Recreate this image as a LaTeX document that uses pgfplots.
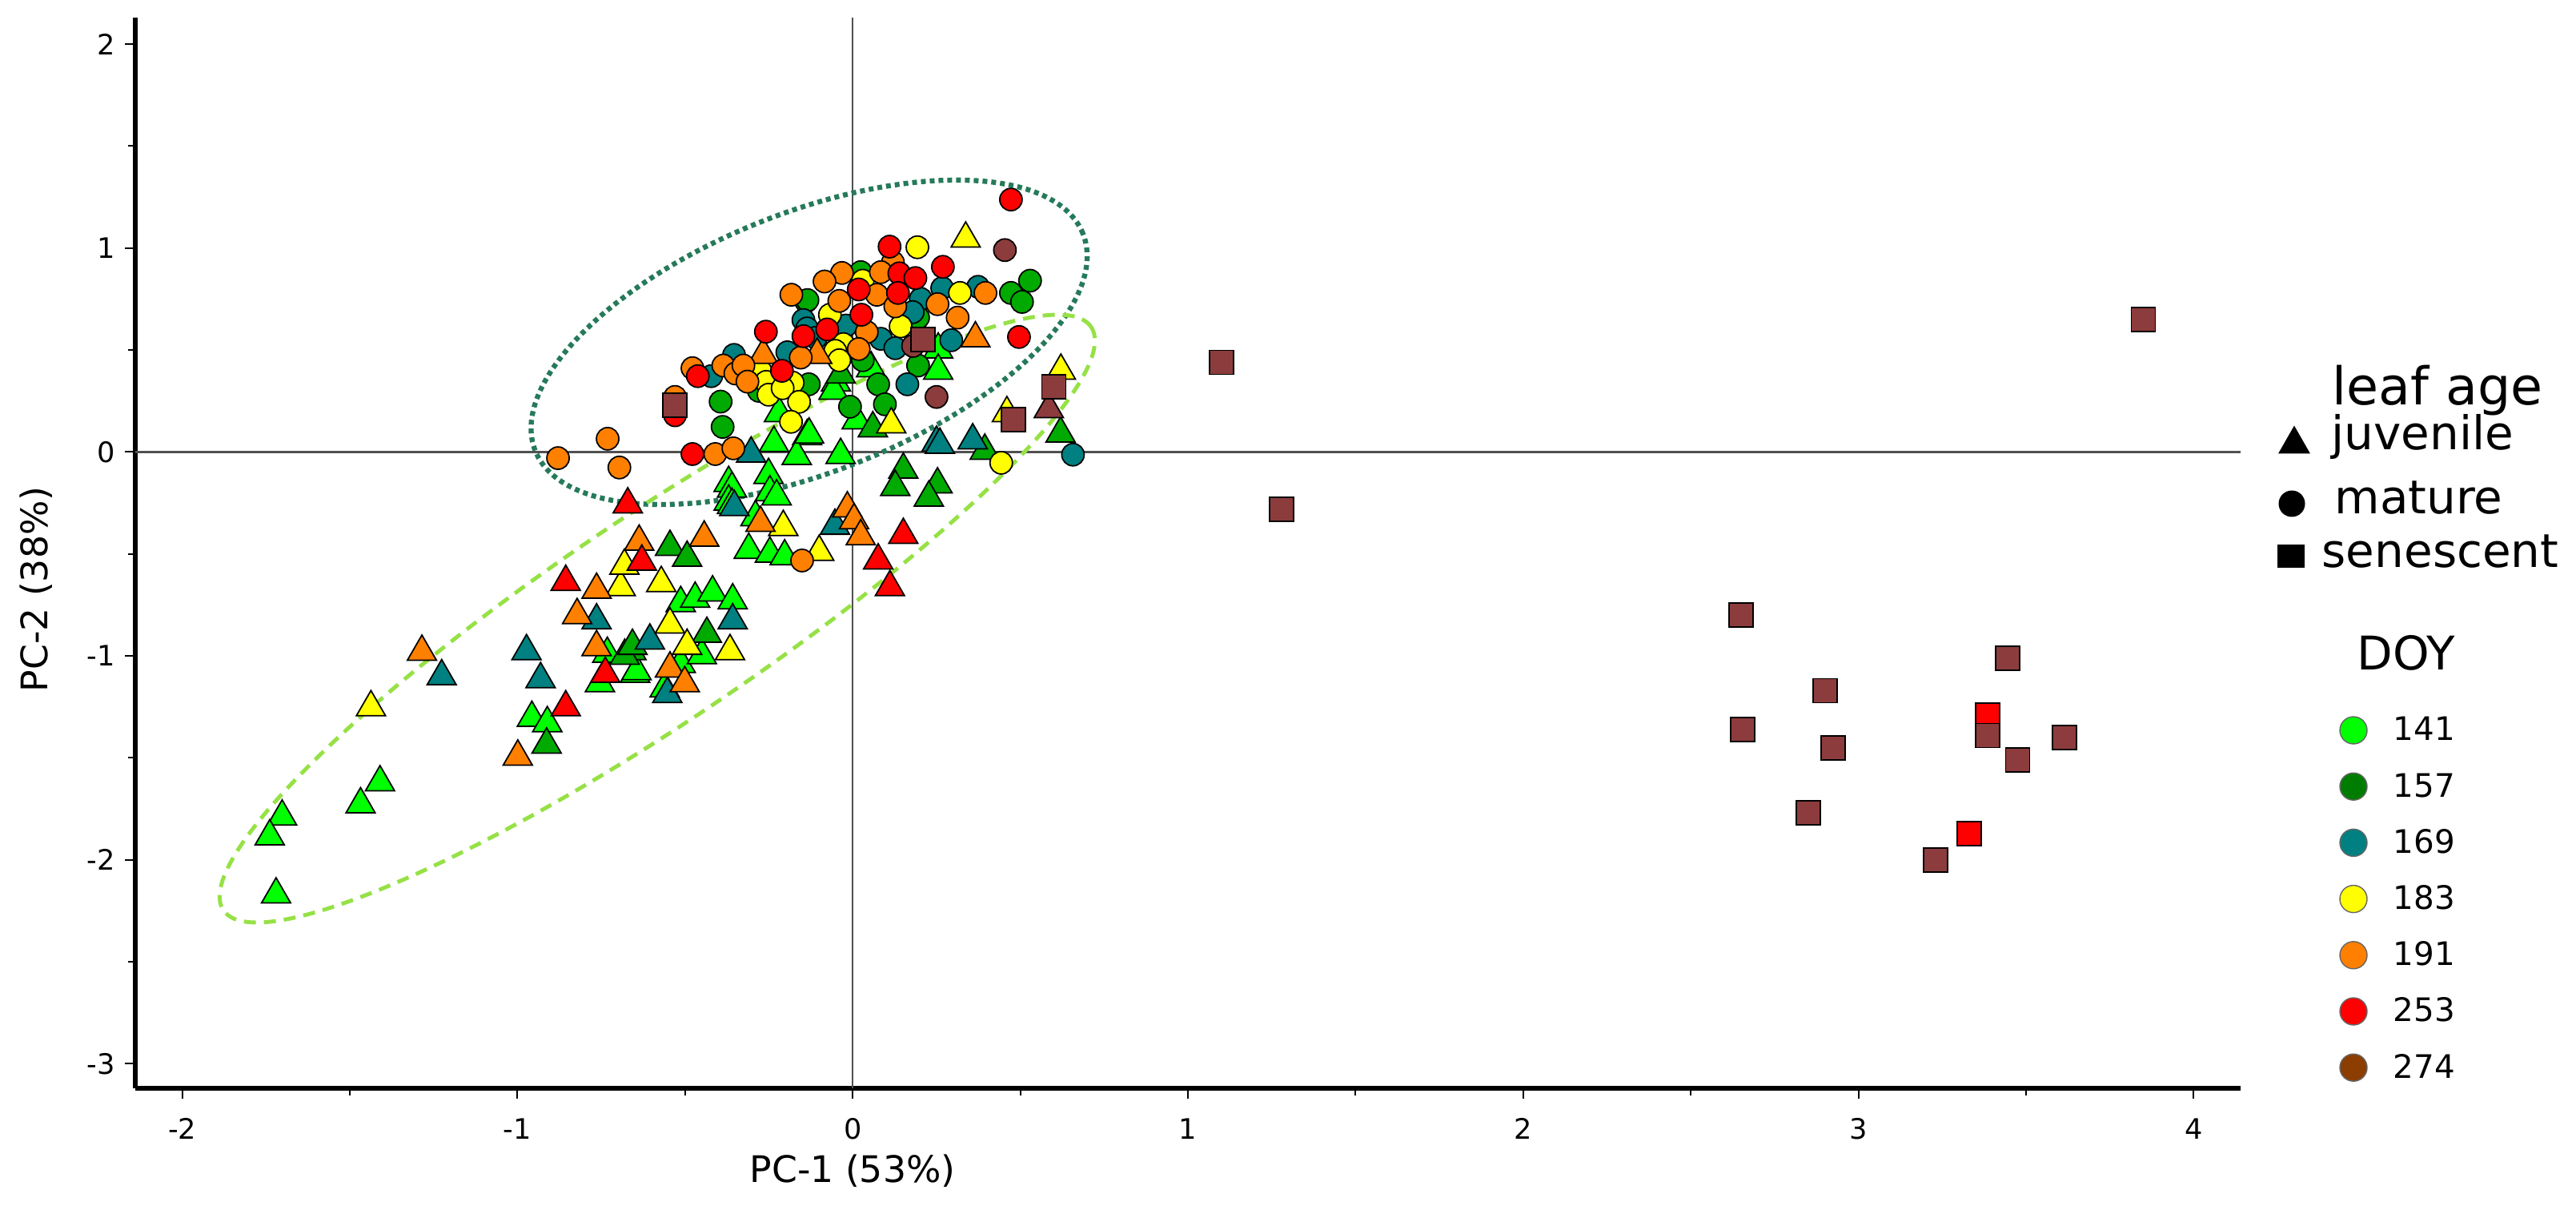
\documentclass[border=0pt]{standalone}
\usepackage{fontspec}
\setmainfont{DejaVu Sans}
\usepackage{pgfplots}
\pgfplotsset{compat=1.18}

\definecolor{c141}{RGB}{0,255,0}
\definecolor{c157}{RGB}{0,170,0}
\definecolor{c169}{RGB}{0,128,128}
\definecolor{c183}{RGB}{255,255,0}
\definecolor{c191}{RGB}{255,128,0}
\definecolor{c253}{RGB}{255,0,0}
\definecolor{c274}{RGB}{140,60,60}
\definecolor{L157}{RGB}{0,125,0}
\definecolor{L274}{RGB}{139,62,0}
\definecolor{matureRing}{RGB}{38,122,90}
\definecolor{juvRing}{RGB}{150,225,70}
\definecolor{zeroLine}{RGB}{80,80,80}

\pgfplotsset{
  tri/.style={only marks, mark=triangle*, mark size=2.1mm,
    mark options={draw=black, fill=#1, line width=0.5pt}},
  circ/.style={only marks, mark=*, mark size=1.4mm,
    mark options={draw=black, fill=#1, line width=0.5pt}},
  sq/.style={only marks, mark=square*, mark size=1.5mm,
    mark options={draw=black, fill=#1, line width=0.5pt}},
}

\begin{document}
\begin{tikzpicture}
\useasboundingbox (-16.9mm,-15.6mm) rectangle (304.9mm,135.9mm);
\begin{axis}[
    scale only axis,
    width=263mm, height=133.7mm,
    xmin=-2.14, xmax=4.14,
    ymin=-3.12, ymax=2.13,
    axis x line*=bottom, axis y line*=left,
    axis line style={black, line width=1.6pt},
    xtick={-2,-1,0,1,2,3,4},
    ytick={-3,-2,-1,0,1,2},
    minor tick num=1,
    tick align=outside,
    major tick length=1.3mm, minor tick length=0.9mm,
    tick style={black, line width=0.6pt},
    /pgf/number format/assume math mode=true,
    tick label style={font=\fontsize{10}{12}\selectfont},
    xticklabel shift=1.2mm,
    xlabel={PC-1 (53\%)},
    ylabel={PC-2 (38\%)},
    label style={font=\fontsize{13}{15}\selectfont},
    xlabel style={at={(axis description cs:0.3407,-0.077)}, anchor=center},
    ylabel style={at={(axis description cs:-0.0471,0.466)}, anchor=center},
  ]
  % zero lines
  \draw[zeroLine, line width=0.7pt] (axis cs:-2.14,0) -- (axis cs:4.14,0);
  \draw[zeroLine, line width=0.7pt] (axis cs:0,-3.12) -- (axis cs:0,2.13);

  % confidence ellipses
  \draw[matureRing, line width=1.8pt, dash pattern=on 0.6mm off 0.5mm,
        rotate around={21.6:(axis cs:-0.130,0.538)}]
        (axis cs:-0.130,0.538) ellipse [x radius=36.8mm, y radius=16.2mm];
  \draw[juvRing, line width=1.4pt, dash pattern=on 1.5mm off 1mm,
        rotate around={33.9:(axis cs:-0.583,-0.817)}]
        (axis cs:-0.583,-0.817) ellipse [x radius=65.3mm, y radius=12.8mm];

  % DOY 141
  \addplot[tri=c141] coordinates {
    (-1.702,-1.788) (-1.739,-1.885) (-1.72,-2.17) (-1.41,-1.62) (-1.468,-1.728)
    (-0.957,-1.304) (-0.911,-1.33)
    (-0.754,-1.134) (-0.649,-1.088) (-0.732,-0.99) (-0.645,-1.075) (-0.513,-1.04)
    (-0.561,-1.16) (-0.45,-0.997)
    (-0.513,-0.741) (-0.47,-0.72) (-0.418,-0.689) (-0.358,-0.728)
    (-0.31,-0.48) (-0.247,-0.499) (-0.203,-0.512) (-0.29,-0.32)
    (-0.37,-0.152) (-0.36,-0.18) (-0.37,-0.244) (-0.36,-0.26)
    (-0.251,-0.113) (-0.247,-0.198) (-0.227,-0.218)
    (-0.235,0.044) (-0.136,0.077) (-0.167,-0.02) (-0.22,0.19) (-0.036,-0.015)
    (-0.13,0.085) (0.012,0.155)
    (-0.05,0.34) (-0.057,0.30) (0.055,0.41) (0.255,0.502) (0.255,0.398)
  };

  % DOY 157
  \addplot[tri=c157] coordinates {
    (-0.913,-1.435) (-0.66,-0.977) (-0.68,-1.00) (-0.657,-0.951) (-0.435,-0.892)
    (-0.545,-0.466) (-0.494,-0.519)
    (0.151,-0.087) (0.127,-0.172) (0.253,-0.159) (0.227,-0.224)
    (0.06,0.116) (-0.036,0.38) (0.394,0.006) (0.62,0.09)
  };
  \addplot[circ=c157] coordinates {
    (0.024,0.882) (-0.139,0.738) (0.472,0.780) (0.529,0.840) (0.505,0.736)
    (0.195,0.659) (0.195,0.424) (0.076,0.332) (-0.131,0.332) (-0.135,0.745)
    (-0.394,0.247) (-0.388,0.123) (-0.008,0.222) (0.096,0.234) (-0.28,0.30)
    (0.03,0.45)
  };

  % DOY 169
  \addplot[tri=c169] coordinates {
    (-1.226,-1.10) (-0.973,-0.977) (-0.931,-1.114) (-0.764,-0.826) (-0.605,-0.925)
    (-0.553,-1.187) (-0.358,-0.826)
    (-0.353,-0.27) (-0.303,-0.008) (0.25,0.045) (0.26,0.035) (0.358,0.057)
    (-0.053,-0.362)
  };
  \addplot[circ=c169] coordinates {
    (0.267,0.804) (0.374,0.810) (0.203,0.751) (0.179,0.686) (-0.147,0.647)
    (0.084,0.555) (0.127,0.509) (0.294,0.548) (0.163,0.332) (-0.195,0.489)
    (-0.354,0.476) (-0.422,0.372) (0.657,-0.013) (-0.136,0.606) (-0.02,0.62)
    (-0.11,0.56)
  };

  % DOY 183
  \addplot[tri=c183] coordinates {
    (-1.437,-1.252) (-0.692,-0.663) (-0.571,-0.643) (-0.681,-0.558) (-0.545,-0.846)
    (-0.494,-0.951) (-0.366,-0.977)
    (-0.207,-0.368) (-0.10,-0.49) (0.115,0.135) (0.337,1.046) (0.621,0.398)
    (0.46,0.19)
  };
  \addplot[circ=c183] coordinates {
    (0.193,1.004) (0.320,0.780) (-0.068,0.673) (0.143,0.616) (-0.028,0.529)
    (-0.052,0.496) (-0.04,0.45) (0.443,-0.053) (-0.275,0.398) (-0.251,0.332)
    (-0.179,0.340) (-0.258,0.344) (-0.251,0.281) (-0.209,0.313) (-0.16,0.246)
    (-0.184,0.148) (0.03,0.84)
  };

  % DOY 191
  \addplot[tri=c191] coordinates {
    (-1.285,-0.98) (-0.999,-1.494) (-0.822,-0.80) (-0.764,-0.676) (-0.764,-0.957)
    (-0.637,-0.44) (-0.443,-0.42) (-0.545,-1.062) (-0.501,-1.134) (-0.275,-0.348)
    (-0.016,-0.277) (0.004,-0.335) (0.024,-0.414) (0.366,0.557) (-0.106,0.476)
    (-0.267,0.476)
  };
  \addplot[circ=c191] coordinates {
    (0.12,0.93) (-0.032,0.878) (-0.084,0.836) (0.084,0.882) (0.072,0.771)
    (-0.040,0.741) (0.396,0.780) (0.253,0.725) (0.127,0.714) (0.313,0.659)
    (0.042,0.588) (0.018,0.505) (-0.183,0.771) (-0.478,0.411) (-0.386,0.424)
    (-0.350,0.385) (-0.326,0.424) (-0.314,0.345) (-0.155,0.463) (-0.879,-0.03)
    (-0.731,0.065) (-0.696,-0.076) (-0.41,-0.01) (-0.356,0.018) (-0.151,-0.532)
    (-0.53,0.27)
  };

  % DOY 253
  \addplot[tri=c253] coordinates {
    (-0.856,-1.252) (-0.738,-1.088) (-0.856,-0.637) (-0.671,-0.257) (-0.629,-0.538)
    (0.151,-0.407) (0.076,-0.532) (0.111,-0.663)
  };
  \addplot[circ=c253] coordinates {
    (0.472,1.238) (0.110,1.007) (0.269,0.908) (0.139,0.876) (0.187,0.853)
    (0.018,0.797) (0.135,0.780) (0.026,0.673) (-0.076,0.601) (-0.147,0.568)
    (0.496,0.564) (-0.259,0.590) (-0.462,0.372) (-0.211,0.398) (-0.478,-0.01)
    (-0.53,0.18)
  };
  \addplot[sq=c253] coordinates {(3.385,-1.29) (3.33,-1.87)};

  % DOY 274
  \addplot[tri=c274] coordinates {(0.585,0.21)};
  \addplot[circ=c274] coordinates {(0.454,0.99) (0.18,0.52) (0.25,0.27)};
  \addplot[sq=c274] coordinates {
    (3.85,0.65) (1.10,0.44) (1.28,-0.28) (2.65,-0.80) (2.655,-1.36) (2.90,-1.17)
    (2.925,-1.45) (2.85,-1.77) (3.445,-1.01) (3.385,-1.39) (3.475,-1.51)
    (3.615,-1.40) (3.23,-2.00) (-0.53,0.23) (0.21,0.55) (0.60,0.32) (0.48,0.16)
  };
\end{axis}

% legend
\begin{scope}[every node/.style={inner sep=0pt, anchor=base west, font=\fontsize{16.5}{19}\selectfont}]
  \node[font=\fontsize{18.5}{21}\selectfont] at (274.4mm,85.3mm) {leaf age};
  \fill[black] (267.7mm,79.25mm) -- (271.7mm,79.25mm) -- (269.7mm,82.75mm) -- cycle;
  \node at (274.3mm,79.7mm) {juvenile};
  \fill[black] (269.4mm,73.0mm) circle [radius=1.65mm];
  \node at (274.7mm,71.7mm) {mature};
  \fill[black] (267.6mm,65.0mm) rectangle (271.0mm,67.9mm);
  \node at (273.1mm,65.0mm) {senescent};
  \node at (277.5mm,52.2mm) {DOY};
\end{scope}
\begin{scope}[every node/.style={inner sep=0pt, anchor=base west, font=\fontsize{11.5}{14}\selectfont}]
  \filldraw[fill=c141, draw=black!60, line width=0.4pt] (277.1mm,44.70mm) circle [radius=1.7mm];
  \node at (282.0mm,43.40mm) {141};
  \filldraw[fill=L157, draw=black!60, line width=0.4pt] (277.1mm,37.68mm) circle [radius=1.7mm];
  \node at (282.0mm,36.38mm) {157};
  \filldraw[fill=c169, draw=black!60, line width=0.4pt] (277.1mm,30.66mm) circle [radius=1.7mm];
  \node at (282.0mm,29.36mm) {169};
  \filldraw[fill=c183, draw=black!60, line width=0.4pt] (277.1mm,23.64mm) circle [radius=1.7mm];
  \node at (282.0mm,22.34mm) {183};
  \filldraw[fill=c191, draw=black!60, line width=0.4pt] (277.1mm,16.62mm) circle [radius=1.7mm];
  \node at (282.0mm,15.32mm) {191};
  \filldraw[fill=c253, draw=black!60, line width=0.4pt] (277.1mm,9.60mm) circle [radius=1.7mm];
  \node at (282.0mm,8.30mm) {253};
  \filldraw[fill=L274, draw=black!60, line width=0.4pt] (277.1mm,2.58mm) circle [radius=1.7mm];
  \node at (282.0mm,1.28mm) {274};
\end{scope}
\end{tikzpicture}
\end{document}
